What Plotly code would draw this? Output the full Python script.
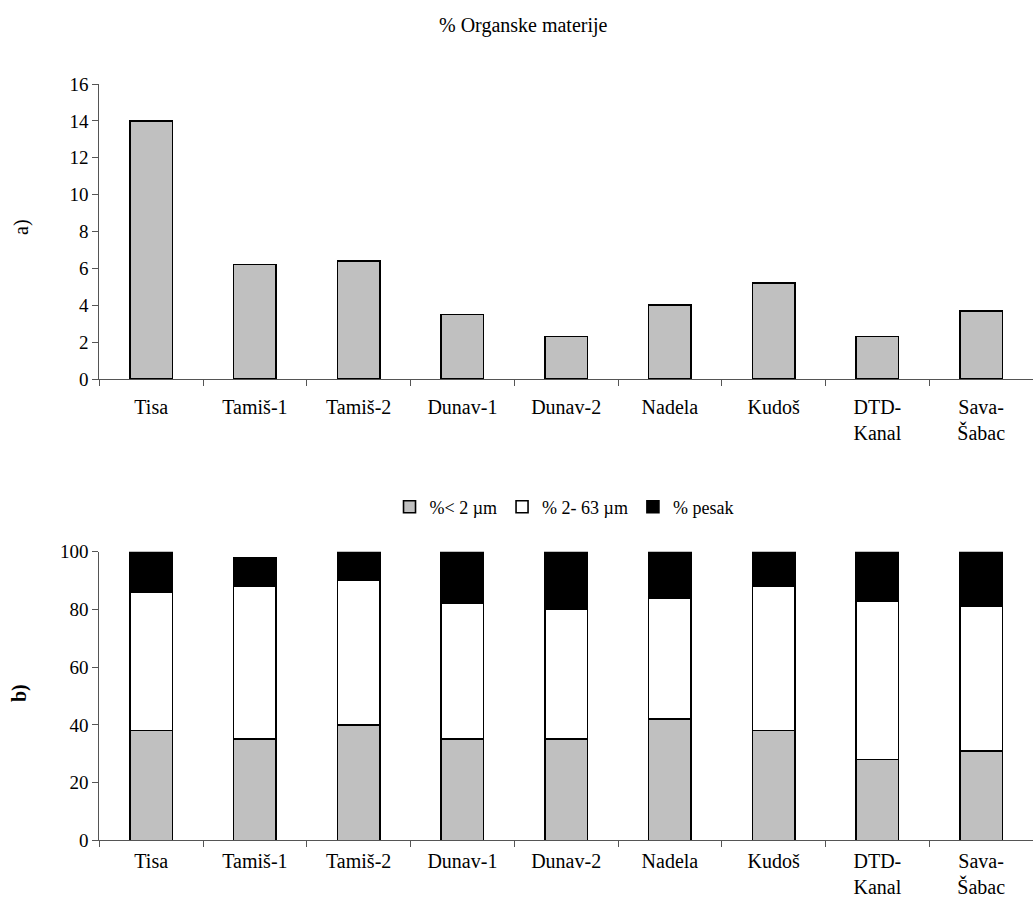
import plotly.graph_objects as go

# Sampling sites
sites = ["Tisa", "Tamiš-1", "Tamiš-2", "Dunav-1", "Dunav-2", "Nadela",
         "Kudoš", "DTD-<br>Kanal", "Sava-<br>Šabac"]

# a) organic matter content (%)
organic = [14.0, 6.2, 6.4, 3.5, 2.3, 4.0, 5.2, 2.3, 3.7]

# b) grain-size fractions (%)
clay = [38, 35, 40, 35, 35, 42, 38, 28, 31]      # < 2 µm
silt = [48, 53, 50, 47, 45, 42, 50, 55, 50]      # 2-63 µm
sand = [14, 10, 10, 18, 20, 16, 12, 17, 19]      # pesak

top_ticks = [0, 2, 4, 6, 8, 10, 12, 14, 16]
bottom_ticks = [0, 20, 40, 60, 80, 100]

W, H = 1033, 899
FONT = "Liberation Serif, Times New Roman, serif"
GRAY = "#C0C0C0"
AXIS = "#555555"


def py(pix):
    """Convert a pixel row (from the top) into paper coordinates."""
    return 1 - pix / H


fig = go.Figure()

fig.add_trace(go.Bar(
    x=sites, y=organic, xaxis="x", yaxis="y", width=0.41,
    marker=dict(color=GRAY, line=dict(color="black", width=1.6)),
    showlegend=False,
))

for name, vals, col in [("%< 2 µm", clay, GRAY),
                        ("% 2- 63 µm", silt, "white"),
                        ("% pesak", sand, "black")]:
    fig.add_trace(go.Bar(
        x=sites, y=vals, name=name, xaxis="x2", yaxis="y2", width=0.41,
        marker=dict(color=col, line=dict(color="black", width=1.6)),
    ))

xdom = [99.3 / W, 1.0]
common = dict(
    showline=True, linecolor=AXIS, linewidth=1,
    ticks="outside", tickcolor=AXIS, ticklen=6,
    showgrid=False, zeroline=False, automargin=False,
)
xfont = dict(family=FONT, size=20, color="black")
yfont = dict(family=FONT, size=19, color="black")

fig.update_layout(
    template="none",
    width=W, height=H, autosize=False,
    margin=dict(l=0, r=0, t=0, b=0),
    paper_bgcolor="white", plot_bgcolor="white",
    barmode="stack",
    font=dict(family=FONT, size=18, color="black"),
    xaxis=dict(domain=xdom, anchor="y", type="category", tickson="boundaries",
               tickfont=xfont, ticklabelstandoff=10, **common),
    yaxis=dict(domain=[py(379), py(84)], anchor="x", range=[0, 16],
               tickvals=top_ticks, tickfont=yfont, **common),
    xaxis2=dict(domain=xdom, anchor="y2", type="category", tickson="boundaries",
                tickfont=xfont, ticklabelstandoff=3, **common),
    yaxis2=dict(domain=[py(840.3), py(551.7)], anchor="x2", range=[0, 100],
                tickvals=bottom_ticks, tickfont=yfont, **common),
    legend=dict(orientation="h", x=0.546, xanchor="center", y=py(507),
                yanchor="middle", font=dict(family=FONT, size=18),
                itemwidth=30, traceorder="normal", bgcolor="rgba(0,0,0,0)"),
    annotations=[
        dict(text="% Organske materije", x=0.507, y=py(25), xref="paper", yref="paper",
             xanchor="center", yanchor="middle",
             showarrow=False, font=dict(family=FONT, size=20)),
        dict(text="a)", x=21 / W, y=py(227), xref="paper", yref="paper",
             xanchor="center", yanchor="middle",
             showarrow=False, textangle=-90, font=dict(family=FONT, size=20)),
        dict(text="<b>b)</b>", x=19 / W, y=py(693), xref="paper", yref="paper",
             xanchor="center", yanchor="middle",
             showarrow=False, textangle=-90, font=dict(family=FONT, size=20)),
    ],
)

fig.write_html("out.html")
